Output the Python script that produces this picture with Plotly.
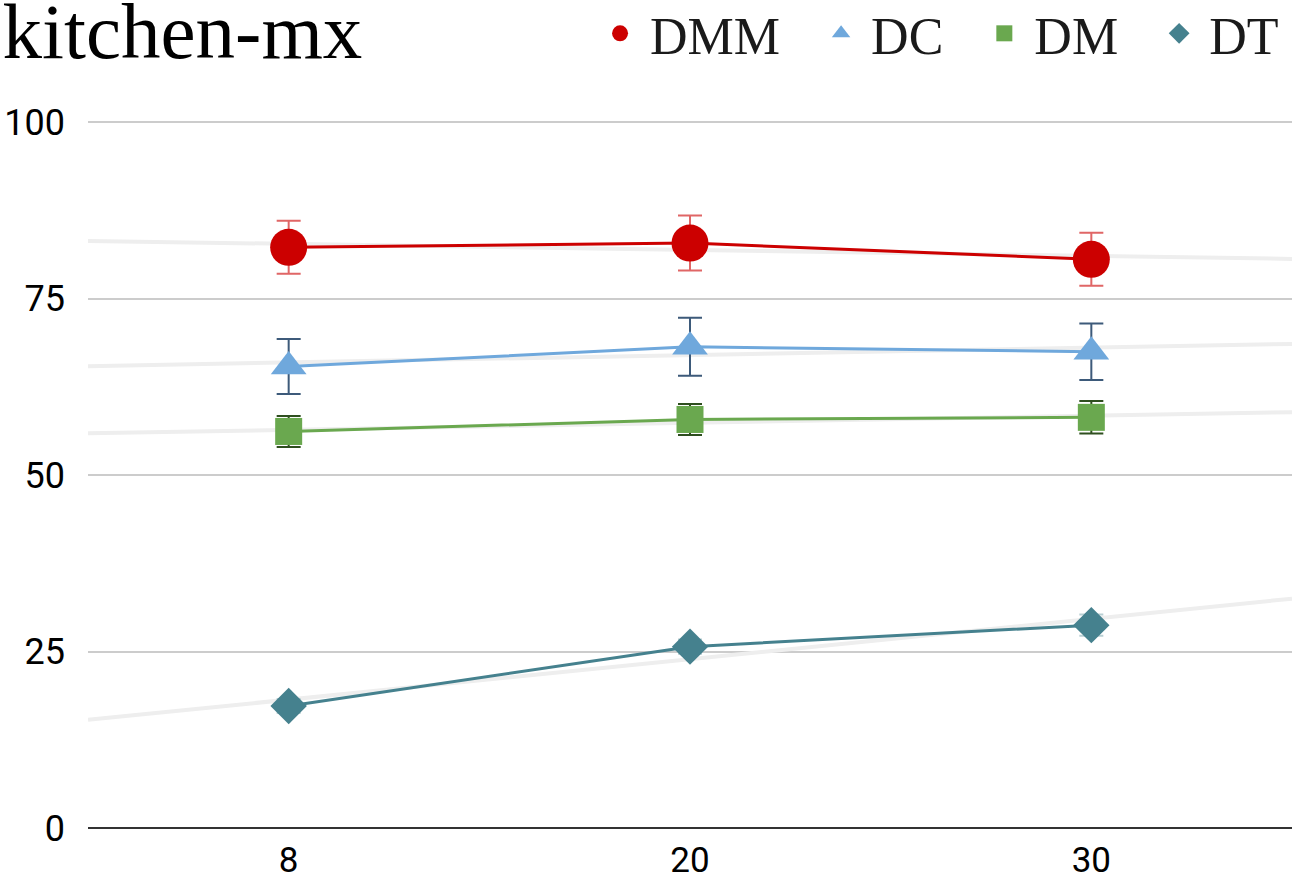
import numpy as np
import plotly.graph_objects as go

categories = ["8", "20", "30"]
series_names = ["DMM", "DC", "DM", "DT"]
dmm = [82.3, 82.9, 80.6]
dmm_err = [3.75, 3.9, 3.75]
dc = [65.4, 68.2, 67.5]
dc_err = [3.9, 4.1, 4.0]
dm = [56.2, 57.9, 58.2]
dm_err = [2.2, 2.2, 2.3]
dt = [17.3, 25.7, 28.75]
dt_err = [1.0, 1.0, 1.5]
y_ticks = [0, 25, 50, 75, 100]

values = [dmm, dc, dm, dt]
errors = [dmm_err, dc_err, dm_err, dt_err]
line_colors = ["#cc0000", "#6fa8dc", "#6aa84f", "#45818e"]
err_colors = ["#e06666", "#3d5a7a", "#2f4f1f", "#b9cfd3"]
symbols = ["circle", "triangle-up", "square", "diamond"]
sizes = [37, 31, 27, 28]
legend_pad = ["\u00a0\u00a0", "\u00a0\u00a0", "\u00a0\u00a0", ""]

xi = np.arange(len(categories))
x_range = [-0.5, len(categories) - 0.5]

fig = go.Figure()

# trendlines
for vals in values:
    k, b = np.polyfit(xi, vals, 1)
    xs = np.array(x_range)
    fig.add_trace(go.Scatter(x=xs, y=k * xs + b, mode="lines",
                             line=dict(color="#eeeeee", width=4),
                             showlegend=False, hoverinfo="skip"))

for name, vals, errs, lc, ec, sym, sz, pad in zip(series_names, values, errors, line_colors,
                                                  err_colors, symbols, sizes, legend_pad):
    fig.add_trace(go.Scatter(x=xi, y=vals, mode="lines",
                             line=dict(color=lc, width=3),
                             showlegend=False, legendgroup=name))
    fig.add_trace(go.Scatter(x=xi, y=vals, mode="markers", name=name + pad, legendgroup=name,
                             marker=dict(color=lc, symbol=sym, size=sz, line=dict(width=0)),
                             error_y=dict(type="data", array=errs, visible=True,
                                          color=ec, thickness=2, width=12)))

fig.update_layout(
    width=1292, height=882,
    margin=dict(l=88, r=0, t=121, b=54),
    paper_bgcolor="white", plot_bgcolor="white",
    title=dict(text="kitchen-mx", x=0.002, xref="container", xanchor="left",
               y=0.966, yref="container", yanchor="middle",
               font=dict(family="Liberation Serif", size=79, color="#000000")),
    legend=dict(orientation="h", x=0.9934, xanchor="right",
                y=0.962, yref="container", yanchor="middle",
                font=dict(family="Liberation Serif", size=52, color="#1a1a1a"),
                itemsizing="trace", itemwidth=50, bgcolor="rgba(0,0,0,0)"),
    xaxis=dict(range=x_range, tickmode="array", tickvals=list(xi), ticktext=categories,
               showgrid=False, zeroline=False, showline=False, ticklabelstandoff=8,
               automargin=False,
               tickfont=dict(family="Roboto", size=35, color="#000000")),
    yaxis=dict(range=[0, 100.2], tickmode="array", tickvals=y_ticks,
               showgrid=True, gridcolor="#cccccc", gridwidth=1.5,
               zeroline=True, zerolinecolor="#333333", zerolinewidth=2,
               showline=False, ticklabelstandoff=22, automargin=False,
               tickfont=dict(family="Roboto", size=36, color="#000000")),
)

fig.write_html("out.html", config={"displayModeBar": False},
               post_script="document.body.style.margin='0';document.body.style.overflow='hidden';")
